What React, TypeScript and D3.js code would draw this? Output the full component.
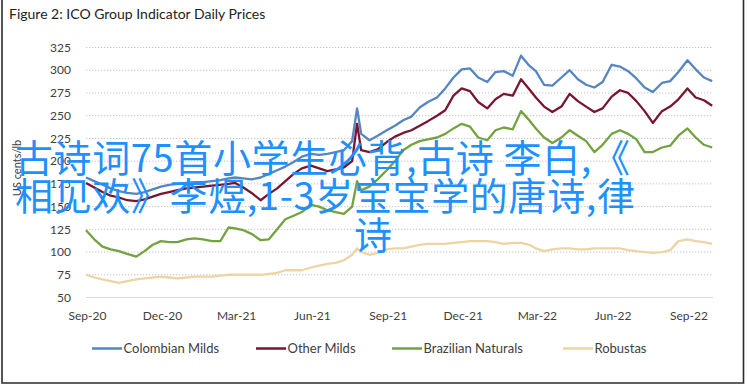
import React from 'react';
import * as d3 from 'd3';

// observation dates (1st, 11th, 21st of each month, plus the late-July 2021 frost spike)
const dates: string[] = [
  '2020-09-01', '2020-09-11', '2020-09-21', '2020-10-01', '2020-10-11', '2020-10-21',
  '2020-11-01', '2020-11-11', '2020-11-21', '2020-12-01', '2020-12-11', '2020-12-21',
  '2021-01-01', '2021-01-11', '2021-01-21', '2021-02-01', '2021-02-11', '2021-02-21',
  '2021-03-01', '2021-03-11', '2021-03-21', '2021-04-01', '2021-04-11', '2021-04-21',
  '2021-05-01', '2021-05-11', '2021-05-21', '2021-06-01', '2021-06-11', '2021-06-21',
  '2021-07-01', '2021-07-11', '2021-07-21', '2021-07-27',
  '2021-08-01', '2021-08-11', '2021-08-21', '2021-09-01', '2021-09-11', '2021-09-21',
  '2021-10-01', '2021-10-11', '2021-10-21', '2021-11-01', '2021-11-11', '2021-11-21',
  '2021-12-01', '2021-12-11', '2021-12-21', '2022-01-01', '2022-01-11', '2022-01-21',
  '2022-02-01', '2022-02-11', '2022-02-21', '2022-03-01', '2022-03-11', '2022-03-21',
  '2022-04-01', '2022-04-11', '2022-04-21', '2022-05-01', '2022-05-11', '2022-05-21',
  '2022-06-01', '2022-06-11', '2022-06-21', '2022-07-01', '2022-07-11', '2022-07-21',
  '2022-08-01', '2022-08-11', '2022-08-21', '2022-09-01', '2022-09-11', '2022-09-21',
  '2022-10-01',
];

const colombianMilds: number[] = [
  182, 178, 174, 170, 167, 165, 164, 166, 169, 172, 174, 175,
  176, 177, 177, 178, 179, 181, 182, 181, 180, 182, 186, 190,
  194, 199, 205, 208, 207, 208, 210, 212, 222, 258,
  230, 223, 228, 234, 239, 245, 249, 259, 265, 270, 280, 292,
  301, 302, 292, 287, 298, 299, 294, 316, 305, 299, 284, 283,
  292, 300, 290, 284, 281, 287, 306, 304, 299, 291, 281, 276,
  286, 288, 298, 311, 301, 292, 288,
];

const otherMilds: number[] = [
  176, 171, 166, 162, 160, 157, 156, 158, 161, 164, 166, 168,
  170, 171, 172, 173, 174, 175, 176, 171, 165, 157, 164, 170,
  178, 186, 192, 195, 192, 189, 191, 193, 200, 241,
  212, 210, 213, 221, 227, 231, 234, 239, 244, 250, 256, 272,
  280, 277, 265, 258, 268, 274, 272, 290, 279, 270, 260, 254,
  260, 274, 266, 260, 254, 258, 271, 278, 275, 266, 255, 242,
  255, 260, 268, 280, 270, 267, 261,
];

const brazilianNaturals: number[] = [
  124, 114, 106, 103, 101, 98, 95, 101, 108, 112, 111, 111,
  114, 115, 114, 112, 112, 127, 126, 124, 120, 113, 114, 125,
  136, 140, 144, 152, 150, 146, 144, 142, 150, 178,
  168, 172, 180, 190, 200, 212, 218, 222, 224, 226, 230, 236,
  241, 238, 226, 223, 234, 237, 235, 255, 245, 236, 226, 220,
  226, 234, 228, 222, 210, 218, 230, 234, 230, 224, 210, 210,
  215, 217, 228, 236, 226, 218, 215,
];

const robustas: number[] = [
  75, 72, 70, 68, 66, 68, 70, 71, 72, 73, 72, 71,
  72, 73, 73, 73, 74, 75, 75, 75, 75, 75, 76, 77,
  80, 80, 80, 83, 85, 87, 88, 91, 97, 104,
  100, 97, 99, 103, 104, 104, 106, 108, 109, 109, 109, 110,
  111, 112, 112, 112, 111, 109, 110, 110, 108, 104, 101, 103,
  104, 104, 103, 103, 104, 104, 104, 104, 102, 101, 100, 99,
  100, 102, 112, 114, 112, 111, 109,
];

const seriesNames = ['Colombian Milds', 'Other Milds', 'Brazilian Naturals', 'Robustas'];
const seriesColors = ['#5585C2', '#7A1530', '#73A23E', '#EDD5A3'];
const seriesValues = [colombianMilds, otherMilds, brazilianNaturals, robustas];

const yTicks = [50, 75, 100, 125, 150, 175, 200, 225, 250, 275, 300, 325];
const xTickDates = ['2020-09-01', '2020-12-01', '2021-03-01', '2021-06-01', '2021-09-01',
  '2021-12-01', '2022-03-01', '2022-06-01', '2022-09-01'];

const overlayLines = ['古诗词75首小学生必背,古诗 李白,《', '相见欢》李煜,1-3岁宝宝学的唐诗,律', '诗'];

const W = 748;
const H = 387;
const font = 'Lato, "Open Sans", sans-serif';

export default function App() {
  const parse = d3.utcParse('%Y-%m-%d');
  const fmt = d3.utcFormat('%b-%y');
  const dts = dates.map(d => parse(d) as Date);

  const x = d3.scaleUtc()
    .domain([parse('2020-09-01') as Date, parse('2022-10-02') as Date])
    .range([86, 713]);
  const y = d3.scaleLinear().domain([50, 325]).range([297.5, 47.5]);

  const line = d3.line<number>()
    .x((_, i) => x(dts[i]))
    .y(d => y(d));

  const legendX = [92, 256, 392, 563];

  return (
    <svg width={W} height={H} style={{ position: 'absolute', left: 0, top: 0, background: '#fff' }}
      fontFamily={font}>
      <rect width={W} height={H} fill="#fff" />
      {/* frame */}
      <path d="M2,0 V383 H743.5 V0" fill="none" stroke="#2b2b2b" strokeWidth={1.6} />

      <text x={9} y={19} fontSize={14} fill="#222">Figure 2: ICO Group Indicator Daily Prices</text>

      {/* grid */}
      {yTicks.map(t => (
        <g key={t}>
          <line x1={86} x2={713} y1={y(t)} y2={y(t)}
            stroke={t === 50 ? '#d9d9d9' : '#c4c4c4'} strokeWidth={1}
            strokeDasharray={t === 50 ? undefined : '1.3 1.7'} />
          <text x={71} y={y(t)} dy="0.35em" textAnchor="end" fontSize={12} fill="#404040">{t}</text>
        </g>
      ))}

      <text transform="translate(17,168) rotate(-90)" textAnchor="middle" dy="0.35em"
        fontSize={11} fill="#404040">US cents/lb</text>

      {xTickDates.map(d => {
        const dt = parse(d) as Date;
        return (
          <text key={d} x={x(dt) + 1.5} y={316} dy="0.35em" textAnchor="middle" fontSize={12} fill="#404040">
            {fmt(dt)}
          </text>
        );
      })}

      {seriesValues.map((vals, i) => (
        <path key={seriesNames[i]} d={line(vals) || ''} fill="none" stroke={seriesColors[i]}
          strokeWidth={2.3} strokeLinejoin="round" />
      ))}

      {/* legend */}
      {seriesNames.map((n, i) => (
        <g key={n} transform={`translate(${legendX[i]},348.5)`}>
          <line x1={0} x2={30} y1={0} y2={0} stroke={seriesColors[i]} strokeWidth={2.5} />
          <text x={31.5} y={0} dy="0.35em" fontSize={13} fill="#404040">{n}</text>
        </g>
      ))}

      {/* overlay text */}
      <g fontFamily='"Noto Sans CJK SC", sans-serif' fontSize={38} fill="#1E90FF">
        <text x={15} y={172} textLength={615} lengthAdjust="spacing">{overlayLines[0]}</text>
        <text x={15} y={210} textLength={620} lengthAdjust="spacing">{overlayLines[1]}</text>
        <text x={373} y={249} textAnchor="middle">{overlayLines[2]}</text>
      </g>
    </svg>
  );
}
